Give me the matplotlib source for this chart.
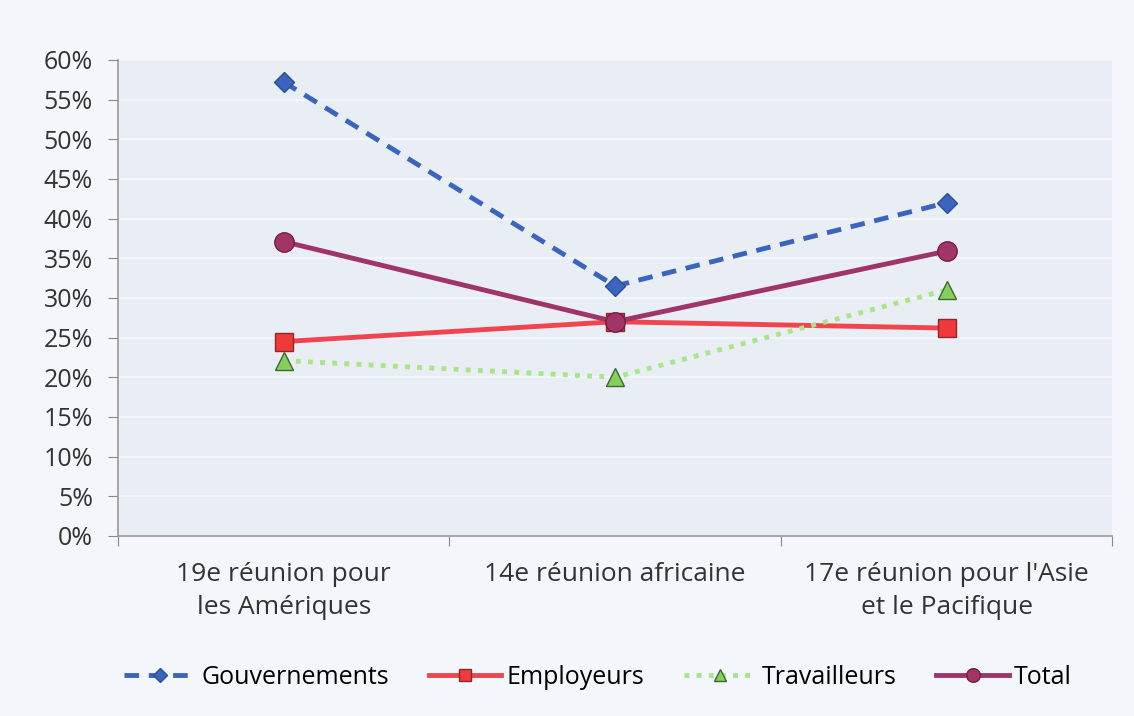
import matplotlib.pyplot as plt
from matplotlib.ticker import FuncFormatter
import numpy as np

categories = ["19e réunion pour\nles Amériques", "14e réunion africaine",
              "17e réunion pour l'Asie\net le Pacifique"]
gouvernements = [57.2, 31.5, 42.0]
employeurs = [24.5, 27.0, 26.2]
travailleurs = [22.1, 20.0, 31.0]
total = [37.1, 27.0, 35.9]

plt.rcParams['font.family'] = ['Open Sans', 'DejaVu Sans']

fig = plt.figure(figsize=(11.34, 7.16), dpi=100)
fig.patch.set_facecolor('#f3f6fa')
ax = fig.add_axes([0.104, 0.2514, 0.877, 0.665])
ax.set_facecolor('#e9eef5')

x = np.arange(len(categories))

ax.plot(x, gouvernements, color='#3a64c0', lw=3.5, ls=(0, (3, 2)), marker='D',
        ms=10.5, mfc='#3a64c0', mec='#2d4f9a', label='Gouvernements', zorder=3)
ax.plot(x, employeurs, color='#f0444f', lw=3.5, marker='s',
        ms=13, mfc='#f03a3a', mec='#8a2a2a', label='Employeurs', zorder=3)
ax.plot(x, travailleurs, color='#a8e68a', lw=3.5, ls=(0, (1, 1.5)), marker='^',
        ms=13, mfc='#86cf5e', mec='#3b6a2a', label='Travailleurs', zorder=3)
ax.plot(x, total, color='#9e3468', lw=3.5, marker='o',
        ms=14, mfc='#a33466', mec='#6e2046', label='Total', zorder=4)

ax.set_ylim(0, 60)
ax.set_yticks(np.arange(0, 61, 5))
ax.yaxis.set_major_formatter(FuncFormatter(lambda v, p: f"{v:.0f}%"))
ax.yaxis.grid(True, color='#f4f7fb', lw=1.2)
ax.set_axisbelow(True)

ax.set_xlim(-0.5, 2.5)
ax.set_xticks([-0.5, 0.5, 1.5, 2.5])
ax.set_xticklabels([])
ax.set_xticks(x, minor=True)
ax.set_xticklabels(categories, minor=True, fontsize=19, color='#333333',
                   linespacing=1.4)
ax.tick_params(axis='x', which='minor', length=0, pad=19)
ax.tick_params(axis='x', which='major', length=7, color='#888888')
ax.tick_params(axis='y', length=7, color='#888888', labelsize=18,
               labelcolor='#333333', pad=11)

for s in ['top', 'right']:
    ax.spines[s].set_visible(False)
for s in ['left', 'bottom']:
    ax.spines[s].set_color('#999999')
    ax.spines[s].set_linewidth(1.2)

fig.legend(loc='center', ncol=4, frameon=False, fontsize=18,
           bbox_to_anchor=(0.527, 0.054), handlelength=2.9, columnspacing=1.6,
           handletextpad=0.2, markerscale=0.7)

fig.savefig('out.png', dpi=100, facecolor=fig.get_facecolor())
